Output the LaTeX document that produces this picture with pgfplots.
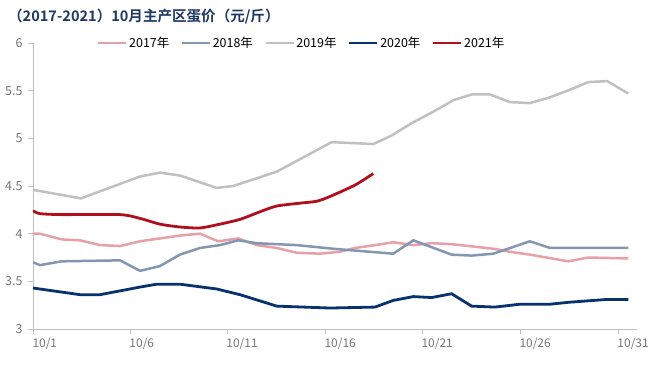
\documentclass[border=0pt]{standalone}
\usepackage{pgfplots}
\pgfplotsset{compat=1.18}
\usepackage{fontspec}
\setmainfont{Noto Sans CJK SC}
\newfontfamily\titlefont{Noto Sans CJK SC Bold}
\definecolor{c17}{RGB}{232,160,168}
\definecolor{c18}{RGB}{132,151,178}
\definecolor{c19}{RGB}{192,192,192}
\definecolor{c20}{RGB}{8,50,110}
\definecolor{c21}{RGB}{176,16,30}
\definecolor{axisgray}{RGB}{191,191,191}
\definecolor{labgray}{RGB}{118,118,118}
\definecolor{titleblue}{RGB}{31,56,100}
\begin{document}
\begin{tikzpicture}
\useasboundingbox (-33bp,-37bp) rectangle (622bp,329bp);
\begin{axis}[
  scale only axis,
  width=604bp, height=286bp,
  at={(0,0)}, anchor=south west,
  xmin=0, xmax=30.46, ymin=3, ymax=6,
  axis x line*=bottom, axis y line*=left,
  axis line style={axisgray, line width=0.8bp},
  every tick/.style={axisgray, line width=0.8bp},
  tick align=outside, major tick length=5bp,
  xtick={0,4.89,9.78,14.73,19.62,24.56,29.5},
  xticklabels={10/1,10/6,10/11,10/16,10/21,10/26,10/31},
  ytick={3,3.5,4,4.5,5,5.5,6},
  yticklabels={3,3.5,4,4.5,5,5.5,6},
  xticklabel style={anchor=north west, xshift=-4bp, font=\fontsize{12}{12}\selectfont, text=labgray},
  yticklabel style={xshift=-2bp, font=\fontsize{12.5}{12.5}\selectfont, text=labgray},
  legend columns=5,
  legend style={at={(axis description cs:0.106,1)}, anchor=west, draw=none, fill=none,
    inner sep=0pt, font=\fontsize{12.5}{12.5}\selectfont,
    nodes={inner xsep=1.5bp, inner ysep=0pt},
    /tikz/every even column/.append style={column sep=10bp}},
  legend image code/.code={\draw[#1] (0bp,0bp) -- (28bp,0bp);},
]
\addplot[c17, line width=2.5bp] coordinates {
(0,4.00)(0.35,4.00)(1.45,3.94)(2.37,3.93)(3.38,3.88)(4.39,3.87)(5.40,3.92)(6.40,3.95)
(7.41,3.98)(8.42,4.00)(9.34,3.92)(10.35,3.95)(11.28,3.88)(12.29,3.85)(13.30,3.80)
(14.47,3.79)(15.48,3.81)(16.24,3.85)(17.25,3.88)(18.17,3.91)(19.18,3.88)(20.11,3.90)(21.11,3.89)
(23.30,3.84)(24.05,3.81)(25.06,3.78)(27.0,3.71)(28.0,3.75)(30.02,3.74)};
\addlegendentry{2017年}
\addplot[c18, line width=2.5bp] coordinates {
(0,3.70)(0.35,3.67)(1.45,3.71)(4.39,3.72)(5.40,3.61)(6.40,3.66)(7.41,3.78)(8.42,3.85)
(9.43,3.88)(10.35,3.93)(11.28,3.90)(13.30,3.88)(15.23,3.84)(18.17,3.79)(19.18,3.93)
(21.11,3.78)(22.12,3.77)(23.21,3.79)(25.06,3.92)(26.07,3.85)(30.02,3.85)};
\addlegendentry{2018年}
\addplot[c19, line width=2.5bp] coordinates {
(0,4.46)(2.42,4.37)(5.40,4.60)(6.40,4.64)(7.41,4.61)(9.26,4.48)(10.10,4.50)(12.29,4.65)
(15.06,4.96)(17.16,4.94)(18.09,5.03)(19.10,5.16)(20.19,5.28)(21.20,5.40)(22.12,5.46)
(23.05,5.46)(24.05,5.38)(25.06,5.37)(26.07,5.43)(27.08,5.51)(28.0,5.59)(28.96,5.60)(30.02,5.47)};
\addlegendentry{2019年}
\addplot[c20, line width=2.8bp] coordinates {
(0,3.43)(2.37,3.36)(3.38,3.36)(5.40,3.44)(6.24,3.47)(7.41,3.47)(9.26,3.42)(10.44,3.36)
(12.29,3.24)(14.98,3.22)(17.25,3.23)(18.17,3.30)(19.18,3.34)(20.11,3.33)(21.11,3.37)
(22.12,3.24)(23.30,3.23)(24.56,3.26)(26.07,3.26)(27.0,3.28)(28.93,3.31)(30.02,3.31)};
\addlegendentry{2020年}
\addplot[c21, line width=2.8bp, smooth, tension=0.4] coordinates {
(0,4.24)(0.35,4.21)(1.45,4.20)(4.39,4.20)(5.40,4.16)(6.40,4.10)(7.41,4.07)(8.42,4.06)
(9.43,4.10)(10.44,4.15)(11.45,4.23)(12.29,4.29)(13.46,4.32)(14.31,4.34)(14.98,4.39)
(16.24,4.51)(17.16,4.63)};
\addlegendentry{2021年}
\end{axis}
\node[anchor=west, inner sep=0pt, text=titleblue, font=\titlefont\fontsize{14.6}{14.6}\selectfont] at (-25bp,312bp) {（2017-2021）10月主产区蛋价（元/斤）};
\end{tikzpicture}
\end{document}
